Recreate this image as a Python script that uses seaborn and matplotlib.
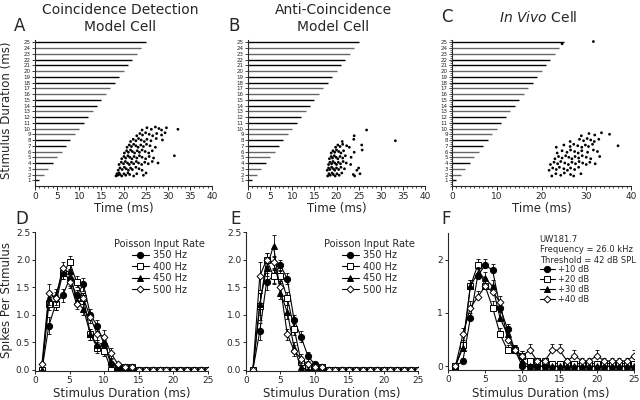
import numpy as np
import pandas as pd
import matplotlib
matplotlib.use("Agg")
import matplotlib.pyplot as plt
import seaborn as sns
from matplotlib.ticker import MultipleLocator, FormatStrFormatter

sns.set_style("ticks")
plt.rcParams['font.family'] = ['DejaVu Sans']

# -----------------------------
# Raster data: spike times (ms) per stimulus duration (ms)
# -----------------------------
durations = list(range(1, 26))
line_colors = ["k", "#666666", "#666666", "k", "#666666", "#666666", "k", "k", "#666666", "#666666",
               "k", "k", "#666666", "k", "k", "#666666", "#666666", "k", "k", "#666666",
               "k", "k", "#666666", "#666666", "k"]

spikes_a = {
    2: [18.3, 18.5, 18.7, 19.0, 19.2, 19.6, 20.1, 20.5, 21.0, 21.4, 22.3, 23.0, 24.5, 25.1],
    3: [18.8, 19.2, 19.7, 20.2, 20.6, 21.1, 21.6, 22.0, 22.8, 23.5, 24.2],
    4: [19.0, 19.5, 20.0, 20.4, 20.9, 21.3, 21.8, 22.3, 22.9, 23.4, 24.1, 24.8, 25.6, 26.5, 27.8],
    5: [19.6, 20.1, 20.5, 21.0, 21.4, 21.9, 22.4, 23.0, 23.6, 24.2, 25.0, 25.8, 26.8, 31.5],
    6: [20.2, 20.7, 21.1, 21.6, 22.0, 22.5, 23.1, 23.6, 24.2, 24.9, 25.7, 26.5],
    7: [20.8, 21.3, 21.8, 22.3, 22.8, 23.3, 23.9, 24.5, 25.2, 26.0, 27.2],
    8: [21.6, 22.2, 22.8, 23.4, 24.0, 24.7, 25.3, 26.2, 27.4, 28.8],
    9: [23.0, 23.7, 24.3, 25.0, 25.8, 26.6, 27.5, 28.6, 29.4],
    10: [24.2, 25.3, 26.3, 27.2, 28.0, 28.6, 29.7, 32.3],
}
spikes_b = {
    2: [18.0, 18.3, 18.6, 19.0, 19.3, 19.7, 20.1, 20.6, 21.2, 23.8, 24.1, 25.3],
    3: [17.9, 18.2, 18.5, 18.9, 19.3, 19.6, 20.0, 20.5, 21.0, 21.8, 24.6, 25.0],
    4: [18.2, 18.5, 18.9, 19.2, 19.6, 20.0, 20.4, 20.9, 21.5, 22.2, 23.2],
    5: [18.4, 18.8, 19.1, 19.5, 19.9, 20.3, 20.8, 21.4, 22.0, 23.3],
    6: [18.8, 19.2, 19.6, 20.0, 20.5, 21.0, 21.6, 24.0, 25.8],
    7: [19.8, 20.3, 20.8, 21.4, 22.3, 22.9, 25.7],
    8: [21.3, 23.9, 33.3],
    9: [24.0],
    10: [26.8],
}
spikes_c = {
    2: [22.3, 23.2, 24.3, 25.1, 26.5, 27.2, 28.8],
    3: [21.7, 22.5, 23.3, 24.0, 25.0, 25.8, 26.5, 27.4, 28.3],
    4: [22.0, 22.8, 23.6, 24.3, 25.2, 26.0, 26.8, 27.6, 28.4, 29.2, 30.0, 30.8, 32.0],
    5: [23.0, 23.8, 24.6, 25.4, 26.1, 26.8, 27.5, 28.3, 29.1, 30.0, 31.0, 33.0],
    6: [23.5, 24.6, 25.7, 26.5, 27.4, 28.2, 29.0, 30.3, 31.6, 32.5],
    7: [23.3, 25.0, 26.4, 27.2, 28.1, 29.0, 29.8, 30.5, 31.4, 37.1],
    8: [26.4, 28.5, 29.4, 30.2, 31.0, 31.8, 32.8],
    9: [28.9, 30.6, 31.9, 33.4, 35.2],
    25: [24.6, 31.6],
}

# -----------------------------
# Tuning curves: spikes per stimulus vs stimulus duration
# -----------------------------
stim_dur = list(range(1, 26))
z = [0] * 15

d_350 = [0, 0.8, 1.2, 1.35, 1.65, 1.35, 1.55, 1.0, 0.8, 0.45, 0.1, 0.05] + z[:13]
d_350_err = [0, 0.15, 0.12, 0.12, 0.12, 0.1, 0.12, 0.1, 0.1, 0.1, 0.06, 0.03] + z[:13]
d_400 = [0, 1.2, 1.2, 1.75, 1.95, 1.6, 1.3, 0.65, 0.4, 0.35, 0, 0, 0.05, 0.05] + z[:11]
d_400_err = [0, 0.12, 0.12, 0.1, 0.12, 0.1, 0.1, 0.1, 0.1, 0.1, 0, 0, 0.03, 0.03] + z[:11]
d_450 = [0, 1.3, 1.35, 1.75, 1.8, 1.25, 1.1, 0.65, 0.45, 0.5, 0.15, 0.05] + z[:13]
d_450_err = [0, 0.12, 0.12, 0.1, 0.1, 0.1, 0.1, 0.1, 0.1, 0.1, 0.06, 0.03] + z[:13]
d_500 = [0.1, 1.4, 1.3, 1.85, 1.6, 1.2, 1.3, 0.95, 0.65, 0.6, 0.3, 0.1, 0.05, 0.05] + z[:11]
d_500_err = [0.05, 0.15, 0.12, 0.1, 0.12, 0.1, 0.1, 0.1, 0.1, 0.12, 0.1, 0.05, 0.03, 0.03] + z[:11]

e_350 = [0, 0.7, 1.6, 1.7, 1.9, 1.65, 0.9, 0.6, 0.25, 0.1, 0] + z[:14]
e_350_err = [0, 0.15, 0.15, 0.15, 0.1, 0.1, 0.1, 0.1, 0.08, 0.05, 0] + z[:14]
e_400 = [0, 1.15, 2.0, 1.7, 1.7, 1.3, 0.75, 0.15, 0.05, 0.05, 0.05] + z[:14]
e_400_err = [0, 0.25, 0.12, 0.12, 0.12, 0.12, 0.12, 0.08, 0.03, 0.03, 0.03] + z[:14]
e_450 = [0, 1.2, 1.85, 2.25, 1.4, 1.05, 0.4, 0.05, 0, 0, 0] + z[:14]
e_450_err = [0, 0.2, 0.15, 0.2, 0.12, 0.12, 0.1, 0.03, 0, 0, 0] + z[:14]
e_500 = [0, 1.7, 2.0, 1.95, 1.5, 0.65, 0.35, 0.2, 0.1, 0.05, 0.05] + z[:14]
e_500_err = [0, 0.25, 0.12, 0.12, 0.12, 0.1, 0.1, 0.08, 0.05, 0.03, 0.03] + z[:14]

f_10 = [0, 0.1, 0.9, 1.7, 1.9, 1.8, 1.1, 0.7, 0.3, 0] + z
f_10_err = [0, 0.05, 0.1, 0.12, 0.12, 0.12, 0.12, 0.1, 0.08, 0] + [0.03] * 15
f_20 = [0, 0.4, 1.5, 1.9, 1.5, 1.1, 0.6, 0.3, 0.3, 0.2, 0.1, 0.1, 0.1, 0.05, 0.05,
        0.05, 0.05, 0.05, 0.05, 0.05, 0.05, 0.05, 0.05, 0.05, 0.05]
f_20_err = [0, 0.1, 0.12, 0.12, 0.12, 0.12, 0.12, 0.1, 0.1, 0.08, 0.06, 0.06, 0.06, 0.04, 0.04,
            0.04, 0.04, 0.04, 0.04, 0.04, 0.04, 0.04, 0.04, 0.04, 0.04]
f_30 = [0, 0.35, 1.5, 1.75, 1.65, 1.5, 0.9, 0.6, 0.3, 0.1] + z
f_30_err = [0, 0.1, 0.12, 0.12, 0.12, 0.12, 0.12, 0.1, 0.08, 0.05] + [0.03] * 15
f_40 = [0, 0.6, 1.1, 1.3, 1.5, 1.4, 1.2, 0.5, 0.3, 0.2, 0.3, 0.1, 0.1, 0.3, 0.3,
        0.1, 0.2, 0.1, 0.1, 0.2, 0.1, 0.1, 0.1, 0.1, 0.2]
f_40_err = [0, 0.12, 0.12, 0.12, 0.12, 0.12, 0.12, 0.1, 0.1, 0.08, 0.12, 0.06, 0.06, 0.12, 0.12,
            0.06, 0.1, 0.06, 0.06, 0.1, 0.06, 0.06, 0.06, 0.06, 0.1]

rate_labels = ["350 Hz", "400 Hz", "450 Hz", "500 Hz"]
db_labels = ["+10 dB", "+20 dB", "+30 dB", "+40 dB"]
markers = ["o", "s", "^", "D"]
faces = ["black", "white", "black", "white"]
msizes = [4.5, 4.5, 4.5, 3.5]

# -----------------------------
# Figure layout (pixels of a 640x400 canvas)
# -----------------------------
W, H = 640, 400
fig = plt.figure(figsize=(6.4, 4.0), dpi=100)


def px_axes(x0, x1, ytop, ybot):
    return fig.add_axes([x0 / W, 1 - ybot / H, (x1 - x0) / W, (ybot - ytop) / H])


def place_xlabel(ax, text, y_px):
    # put the x label centre at a given canvas row
    ax.set_xlabel(text, fontsize=8.5)
    bb = ax.get_position()
    y_ax = ((1 - y_px / H) - bb.y0) / bb.height
    ax.xaxis.set_label_coords(0.5, y_ax)
    ax.xaxis.label.set_va("center")


def raster(ax, spikes, c_style=False):
    ax.hlines(durations, 0, durations, colors=line_colors, linewidth=1.0)
    rows = []
    for d, times in spikes.items():
        for i, t in enumerate(times):
            rows.append((t, d + ((i * 3) % 5 - 2) * 0.13))
    df = pd.DataFrame(rows, columns=["time", "row"])
    sns.scatterplot(data=df, x="time", y="row", ax=ax, s=4, color="black",
                    edgecolor="none", legend=False)
    ax.set_xlim(0, 40)
    ax.set_ylim(0, 25.4)
    ax.set_yticks(durations)
    ax.set_yticklabels([str(d) for d in durations], fontsize=4)
    ax.tick_params(axis="y", length=2, width=0.6, pad=1)
    if c_style:
        ax.xaxis.set_major_locator(MultipleLocator(10))
        ax.yaxis.set_minor_locator(MultipleLocator(1 / 3))
        ax.tick_params(axis="y", which="minor", length=1.2, width=0.5)
    else:
        ax.xaxis.set_major_locator(MultipleLocator(5))
    ax.xaxis.set_minor_locator(MultipleLocator(1))
    ax.tick_params(axis="x", labelsize=6.5, length=3, width=0.7, pad=1)
    ax.tick_params(axis="x", which="minor", length=1.5, width=0.6)
    ax.set_ylabel("")
    for s in ["left", "bottom"]:
        ax.spines[s].set_linewidth(0.8)
    sns.despine(ax=ax)
    place_xlabel(ax, "Time (ms)", 209)


def curves(ax, series, errs, labels, up_only=False):
    for vals, err, lab, m, fc, ms in zip(series, errs, labels, markers, faces, msizes):
        df = pd.DataFrame({"dur": stim_dur, "val": vals})
        lo = [0] * len(err) if up_only else err
        ax.errorbar(stim_dur, vals, yerr=[lo, err], fmt="none", ecolor="black",
                    elinewidth=0.6, capsize=1.5, capthick=0.6)
        sns.lineplot(data=df, x="dur", y="val", ax=ax, color="black", linewidth=0.8,
                     marker=m, markerfacecolor=fc, markeredgecolor="black",
                     markeredgewidth=0.7, markersize=ms, label=lab)
    ax.set_xlim(0, 25)
    ax.xaxis.set_major_locator(MultipleLocator(5))
    ax.tick_params(axis="both", labelsize=6.5, length=2.5, width=0.7, pad=1)
    ax.set_ylabel("")
    for s in ["left", "bottom"]:
        ax.spines[s].set_linewidth(0.8)
    sns.despine(ax=ax)
    place_xlabel(ax, "Stimulus Duration (ms)", 393)


# Top row: rasters
ax_a = px_axes(35, 212, 40, 186)
ax_b = px_axes(248, 425, 40, 186)
ax_c = px_axes(452, 631, 40, 186)
raster(ax_a, spikes_a)
raster(ax_b, spikes_b)
raster(ax_c, spikes_c, c_style=True)

# Bottom row: tuning curves
ax_d = px_axes(35, 208, 232, 371)
ax_e = px_axes(246, 418, 232, 371)
ax_f = px_axes(448, 634, 233, 370)
curves(ax_d, [d_350, d_400, d_450, d_500], [d_350_err, d_400_err, d_450_err, d_500_err], rate_labels)
curves(ax_e, [e_350, e_400, e_450, e_500], [e_350_err, e_400_err, e_450_err, e_500_err], rate_labels)
curves(ax_f, [f_10, f_20, f_30, f_40], [f_10_err, f_20_err, f_30_err, f_40_err], db_labels, up_only=True)
for ax in (ax_d, ax_e):
    ax.set_ylim(-0.02, 2.5)
    ax.yaxis.set_major_locator(MultipleLocator(0.5))
    ax.yaxis.set_major_formatter(FormatStrFormatter("%.1f"))
    ax.legend(title="Poisson Input Rate", loc="upper right", bbox_to_anchor=(1.02, 1.0),
              frameon=False, fontsize=7, title_fontsize=7, handlelength=1.8,
              handletextpad=0.4, labelspacing=0.15, borderpad=0.2)
ax_f.set_ylim(-0.07, 2.5)
ax_f.yaxis.set_major_locator(MultipleLocator(1))
leg = ax_f.legend(title="UW181.7\nFrequency = 26.0 kHz\nThreshold = 42 dB SPL", loc="upper right",
                  bbox_to_anchor=(1.04, 1.03), frameon=False, fontsize=6, title_fontsize=6,
                  handlelength=1.8, handletextpad=0.4, labelspacing=0.1, borderpad=0.2)
leg._legend_box.align = "left"

# Titles, panel letters and shared y labels
fig.text(120 / W, 1 - 10 / H, "Coincidence Detection", ha="center", va="center", fontsize=10)
fig.text(120 / W, 1 - 27 / H, "Model Cell", ha="center", va="center", fontsize=10)
fig.text(333 / W, 1 - 10 / H, "Anti-Coincidence", ha="center", va="center", fontsize=10)
fig.text(333 / W, 1 - 27 / H, "Model Cell", ha="center", va="center", fontsize=10)
fig.text(538 / W, 1 - 17 / H, r"$\it{In\ Vivo}$ Cell", ha="center", va="center", fontsize=10)
for lab, x, y in [("A", 20, 26), ("B", 234, 26), ("C", 447, 17), ("D", 22, 219), ("E", 236, 219), ("F", 446, 219)]:
    fig.text(x / W, 1 - y / H, lab, ha="center", va="center", fontsize=12)
fig.text(7 / W, 1 - 110 / H, "Stimulus Duration (ms)", rotation=90, ha="center", va="center", fontsize=8.5)
fig.text(7 / W, 1 - 300 / H, "Spikes Per Stimulus", rotation=90, ha="center", va="center", fontsize=8.5)

fig.savefig("out.png", dpi=100)
